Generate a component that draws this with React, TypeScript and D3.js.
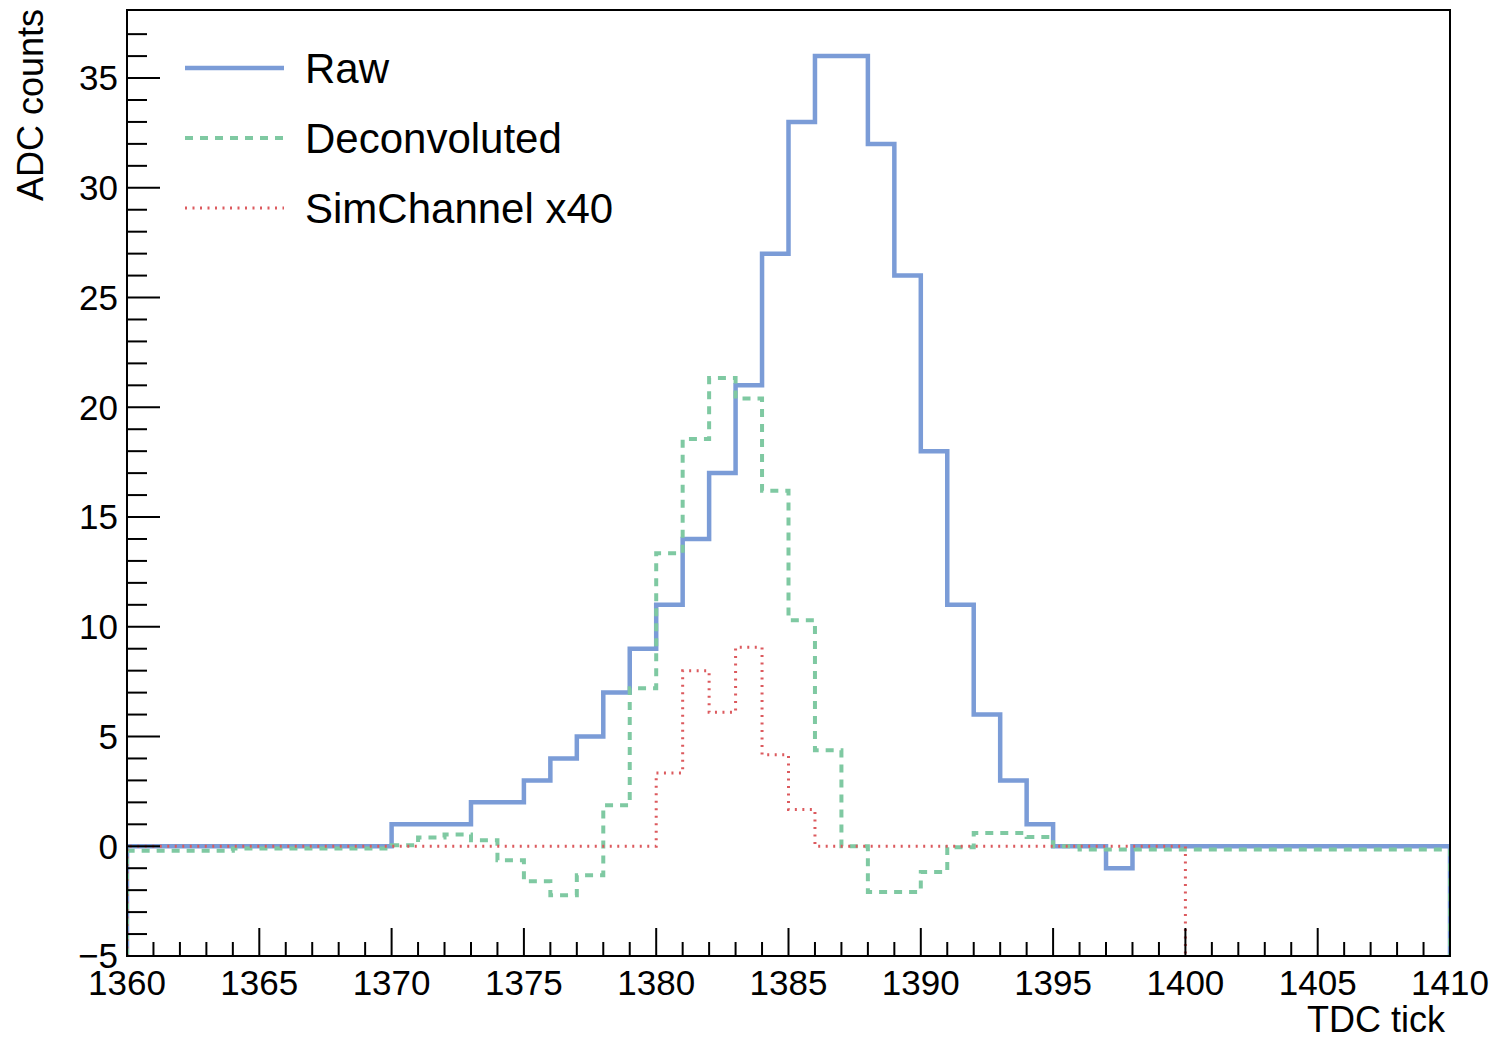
import React from "react";
import * as d3 from "d3";

// Bin lower edges: 1360 .. 1409 (width 1)
const binStart = 1360;
const rawValues = [
  0, 0, 0, 0, 0, 0, 0, 0, 0, 0,
  1, 1, 1, 2, 2, 3, 4, 5, 7, 9,
  11, 14, 17, 21, 27, 33, 36, 36, 32, 26,
  18, 11, 6, 3, 1, 0, 0, -1, 0, 0,
  0, 0, 0, 0, 0, 0, 0, 0, 0, 0,
];
const deconValues = [
  -0.2, -0.2, -0.2, -0.2, -0.1, -0.1, -0.1, -0.1, -0.1, -0.1,
  0.05, 0.4, 0.53, 0.27, -0.64, -1.6, -2.23, -1.32, 1.87, 7.2,
  13.35, 18.55, 21.33, 20.4, 16.2, 10.3, 4.37, 0.0, -2.08, -2.08,
  -1.17, -0.05, 0.6, 0.6, 0.42, 0.0, -0.15, -0.15, -0.15, -0.15,
  -0.15, -0.15, -0.15, -0.15, -0.15, -0.15, -0.15, -0.15, -0.15, -0.15,
];
// SimChannel x40, bins 1360 .. 1399
const simValues = [
  0, 0, 0, 0, 0, 0, 0, 0, 0, 0,
  0, 0, 0, 0, 0, 0, 0, 0, 0, 0,
  3.34, 8.0, 6.1, 9.07, 4.17, 1.67, 0, 0, 0, 0,
  0, 0, 0, 0, 0, 0, 0, 0, 0, 0,
];
const xDomain = [1360, 1410];
const yDomain = [-5, 38.1];
const xMajorTicks = [1360, 1365, 1370, 1375, 1380, 1385, 1390, 1395, 1400, 1405, 1410];
const yMajorTicks = [-5, 0, 5, 10, 15, 20, 25, 30, 35];
const legendLabels = ["Raw", "Deconvoluted", "SimChannel x40"];
const xTitle = "TDC tick";
const yTitle = "ADC counts";

const COLORS = { raw: "#7b9cd7", decon: "#7fc9a2", sim: "#dc5a5e" };
const FONT = "'Liberation Sans', Arial, Helvetica, sans-serif";

const L = 127, R = 1450, T = 10, B = 956;

export default function App() {
  const x = d3.scaleLinear().domain(xDomain).range([L, R]);
  const y = d3.scaleLinear().domain(yDomain).range([B, T]);
  const yMin = yDomain[0];

  const histPoints = (vals: number[]) => {
    const pts: [number, number][] = [[binStart, yMin]];
    vals.forEach((v, i) => {
      pts.push([binStart + i, v]);
      pts.push([binStart + i + 1, v]);
    });
    pts.push([binStart + vals.length, yMin]);
    return pts;
  };
  const line = d3
    .line<[number, number]>()
    .x((d) => x(d[0]))
    .y((d) => y(d[1]));

  const xMinor = d3.range(xDomain[0], xDomain[1] + 1, 1).filter((v) => v % 5 !== 0);
  const yMinor = d3.range(-5, 38, 1).filter((v) => v % 5 !== 0);

  const legend = [
    { label: legendLabels[0], color: COLORS.raw, dash: undefined, w: 4.5 },
    { label: legendLabels[1], color: COLORS.decon, dash: "8,7", w: 4 },
    { label: legendLabels[2], color: COLORS.sim, dash: "2,5.5", w: 3 },
  ];

  return (
    <svg
      width={1497}
      height={1041}
      style={{ position: "absolute", left: 0, top: 0, background: "#fff" }}
      fontFamily={FONT}
    >
      <rect x={0} y={0} width={1497} height={1041} fill="#fff" />
      <defs>
        <clipPath id="plotClip">
          <rect x={L} y={T} width={R - L} height={B - T} />
        </clipPath>
      </defs>

      <g clipPath="url(#plotClip)" fill="none">
        <path d={line(histPoints(rawValues)) || ""} stroke={COLORS.raw} strokeWidth={4.5} />
        <path d={line(histPoints(deconValues)) || ""} stroke={COLORS.decon} strokeWidth={4} strokeDasharray="8,7" />
        <path d={line(histPoints(simValues)) || ""} stroke={COLORS.sim} strokeWidth={3} strokeDasharray="2,5.5" />
      </g>

      {/* frame */}
      <rect x={L} y={T} width={R - L} height={B - T} fill="none" stroke="#000" strokeWidth={2} />

      {/* ticks */}
      <g stroke="#000" strokeWidth={2}>
        {xMajorTicks.map((t) => (
          <line key={"xM" + t} x1={x(t)} x2={x(t)} y1={B} y2={B - 28} />
        ))}
        {xMinor.map((t) => (
          <line key={"xm" + t} x1={x(t)} x2={x(t)} y1={B} y2={B - 14} />
        ))}
        {yMajorTicks.map((t) => (
          <line key={"yM" + t} x1={L} x2={L + 33} y1={y(t)} y2={y(t)} />
        ))}
        {yMinor.map((t) => (
          <line key={"ym" + t} x1={L} x2={L + 20} y1={y(t)} y2={y(t)} />
        ))}
      </g>

      {/* x labels */}
      <g fontSize={35} fill="#000" textAnchor="middle">
        {xMajorTicks.map((t) => (
          <text key={"xl" + t} x={x(t)} y={995}>
            {t}
          </text>
        ))}
      </g>
      {/* y labels */}
      <g fontSize={35} fill="#000" textAnchor="end">
        {yMajorTicks.map((t) => (
          <text key={"yl" + t} x={118} y={y(t)} dy="0.35em">
            {t < 0 ? "\u2212" + Math.abs(t) : t}
          </text>
        ))}
      </g>

      {/* axis titles */}
      <text x={1445} y={1032} fontSize={36} textAnchor="end" fill="#000">
        {xTitle}
      </text>
      <text
        transform="translate(43,9) rotate(-90)"
        fontSize={36}
        textAnchor="end"
        fill="#000"
      >
        {yTitle}
      </text>

      {/* legend */}
      {legend.map((d, i) => {
        const ly = 68 + i * 70;
        return (
          <g key={d.label}>
            <line x1={185} x2={284} y1={ly} y2={ly} stroke={d.color} strokeWidth={d.w} strokeDasharray={d.dash} />
            <text x={305} y={ly} dy="0.36em" fontSize={42} fill="#000">
              {d.label}
            </text>
          </g>
        );
      })}
    </svg>
  );
}
